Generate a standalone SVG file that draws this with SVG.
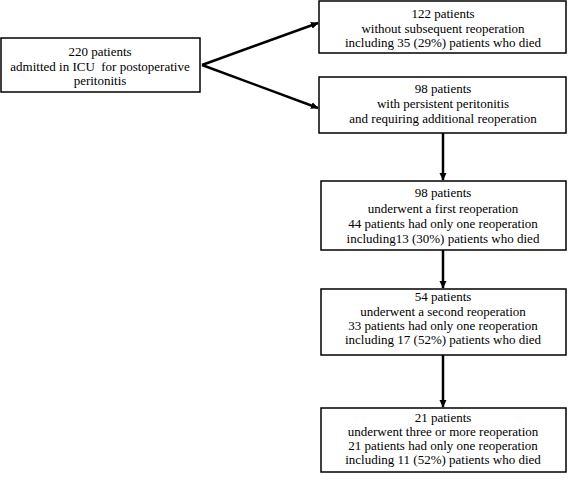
<svg xmlns="http://www.w3.org/2000/svg" width="568" height="482" viewBox="0 0 568 482">
<style>
.box{fill:#fff;stroke:#000;stroke-width:1.5}
.t{font-family:'Liberation Serif','Times New Roman','DejaVu Serif',serif;font-size:13px;fill:#000;text-anchor:middle}
.c{stroke:#000;stroke-width:2.5;fill:none;marker-end:url(#ah)}
</style>
<defs>
<marker id="ah" markerWidth="8" markerHeight="8" refX="7" refY="4" orient="auto" markerUnits="userSpaceOnUse">
<path d="M0,0.5 L7.5,4 L0,7.5 Z" fill="#000"/>
</marker>
</defs>
<rect width="568" height="482" fill="#fff"/>
<g id="connectors">
<path class="c" d="M202,65 L318,23"/>
<path class="c" d="M202,65 L318,108"/>
<path class="c" d="M443,133 L443,180"/>
<path class="c" d="M443,250 L443,288"/>
<path class="c" d="M443,355 L443,407"/>
</g>
<g id="n220">
<rect class="box" x="1" y="38" width="199" height="54"/>
<text class="t" x="100" y="56">220 patients</text>
<text class="t" x="100" y="71">admitted in ICU&#160; for postoperative</text>
<text class="t" x="100" y="85">peritonitis</text>
</g>
<g id="n122">
<rect class="box" x="319" y="1" width="247" height="52"/>
<text class="t" x="443" y="18">122 patients</text>
<text class="t" x="443" y="33">without subsequent reoperation</text>
<text class="t" x="443" y="47">including 35 (29%) patients who died</text>
</g>
<g id="n98a">
<rect class="box" x="319" y="77" width="247" height="56"/>
<text class="t" x="443" y="93">98 patients</text>
<text class="t" x="443" y="108">with persistent peritonitis</text>
<text class="t" x="443" y="123">and requiring additional reoperation</text>
</g>
<g id="n98b">
<rect class="box" x="321" y="181" width="245" height="69"/>
<text class="t" x="443" y="197">98 patients</text>
<text class="t" x="443" y="213">underwent a first reoperation</text>
<text class="t" x="443" y="228">44 patients had only one reoperation</text>
<text class="t" x="443" y="243">including13 (30%) patients who died</text>
</g>
<g id="n54">
<rect class="box" x="321" y="289" width="245" height="66"/>
<text class="t" x="443" y="301">54 patients</text>
<text class="t" x="443" y="316">underwent a second reoperation</text>
<text class="t" x="443" y="330">33 patients had only one reoperation</text>
<text class="t" x="443" y="344">including 17 (52%) patients who died</text>
</g>
<g id="n21">
<rect class="box" x="321" y="408" width="245" height="64"/>
<text class="t" x="443" y="422">21 patients</text>
<text class="t" x="443" y="436">underwent three or more reoperation</text>
<text class="t" x="443" y="450">21 patients had only one reoperation</text>
<text class="t" x="443" y="464">including 11 (52%) patients who died</text>
</g>
</svg>
